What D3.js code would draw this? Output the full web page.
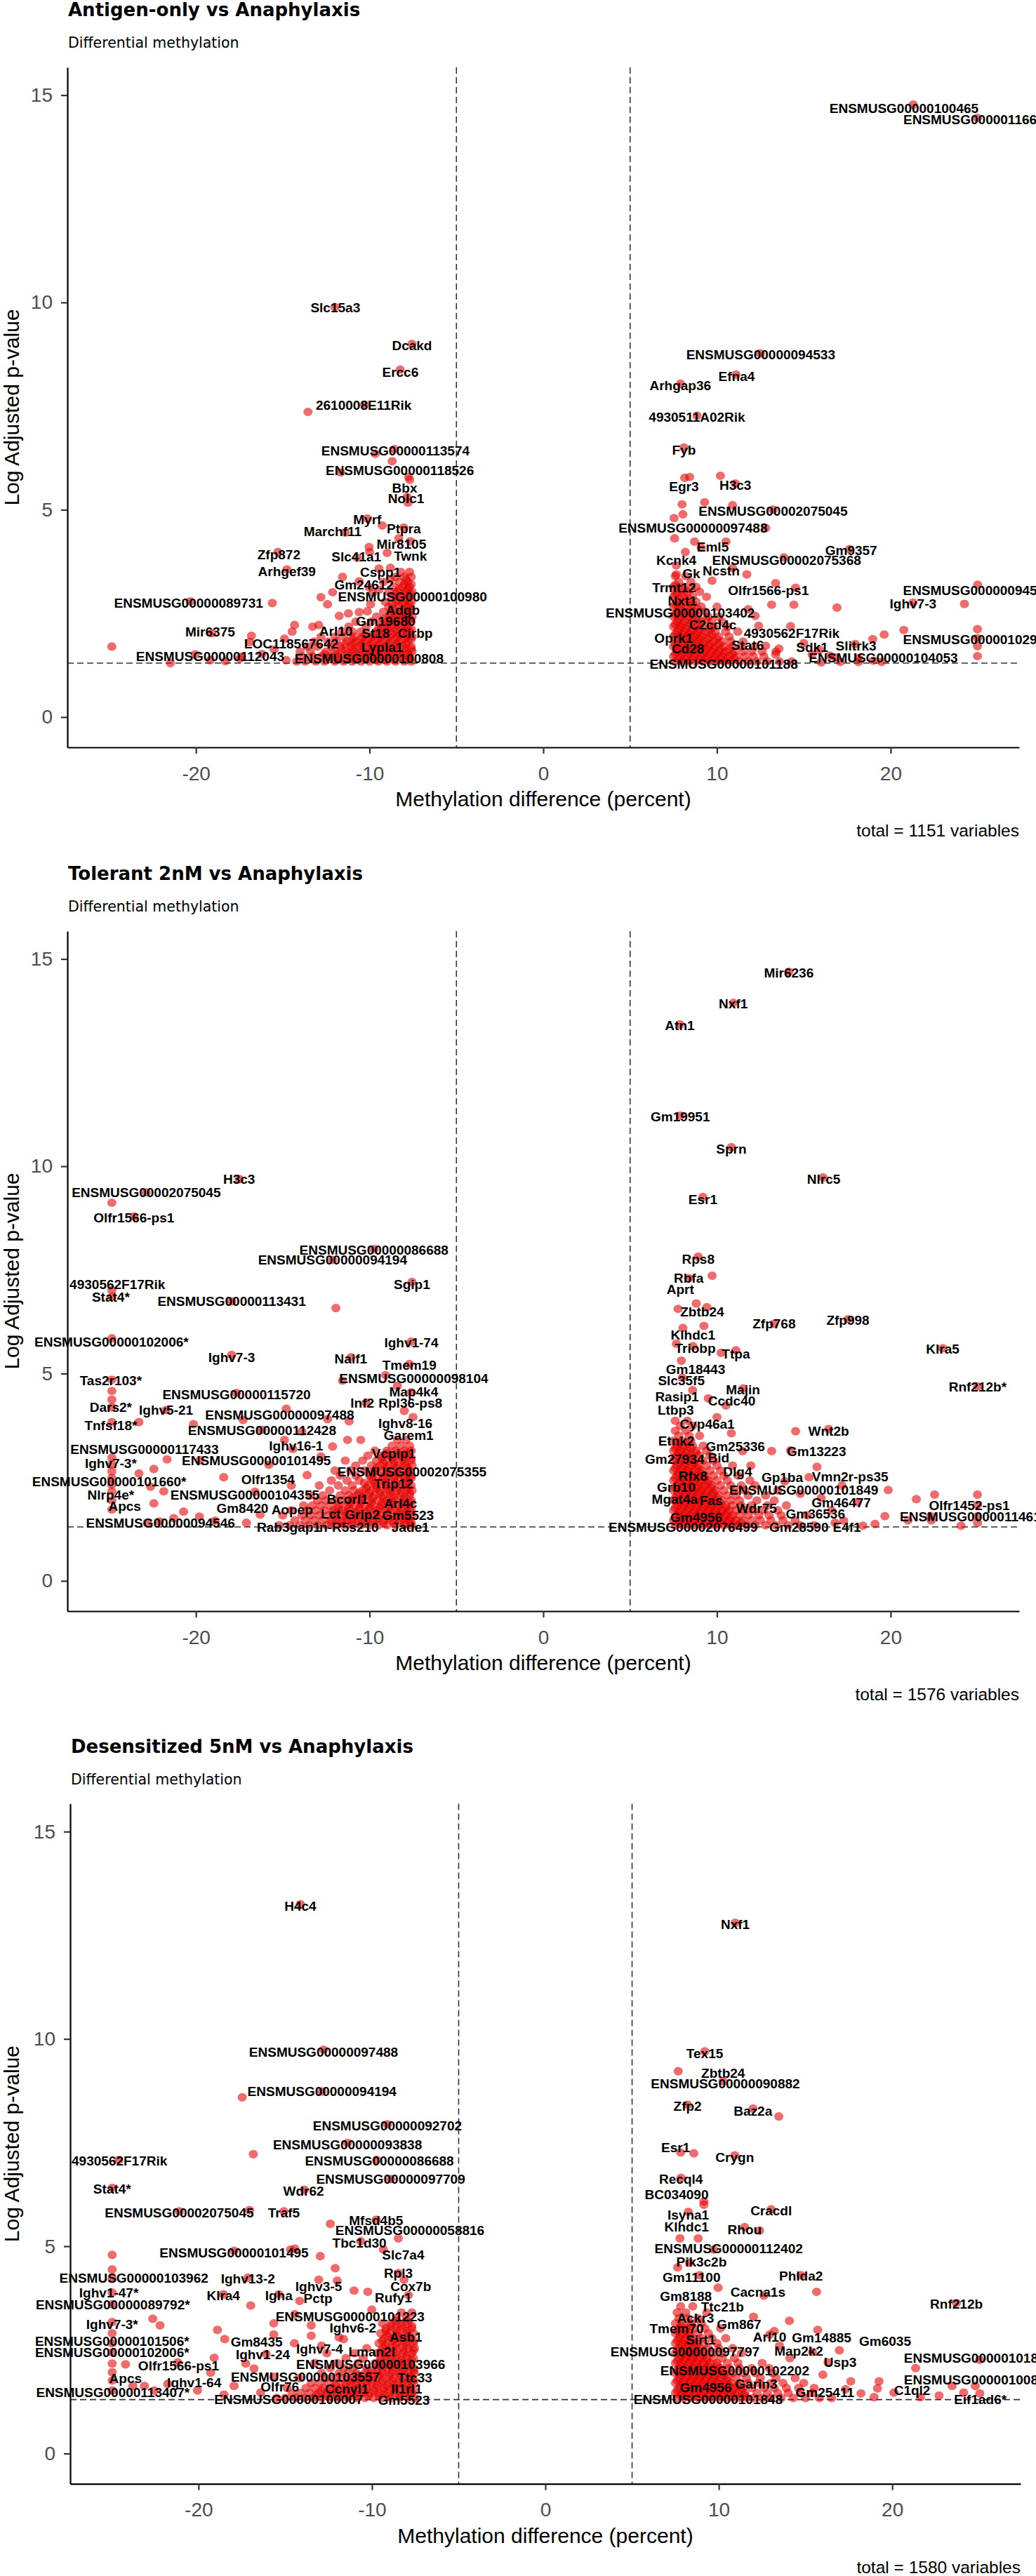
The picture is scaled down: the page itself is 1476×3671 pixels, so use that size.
<!DOCTYPE html>
<html>
<head>
<meta charset="utf-8">
<script src="https://cdnjs.cloudflare.com/ajax/libs/d3/7.8.5/d3.min.js"></script>
<style>
  body { margin: 0; background: #fff; }
  .tick text { font-family: "Liberation Sans", Arial, sans-serif; font-size: 28px; fill: #4d4d4d; }
</style>
</head>
<body>
<div id="chart"></div>
<script>
// ---- shared values ----
var xTicks = [-20, -10, 0, 10, 20];
var yTicks = [0, 5, 10, 15];
var diffCut = 5;          // dashed verticals at +/- 5 percent
var pCut = 1.3;           // -log10(0.05)
var subtitle = "Differential methylation";
var xTitle = "Methylation difference (percent)";
var yTitle = "Log Adjusted p-value";

// ---- panel 1: Antigen-only vs Anaphylaxis ----
var antigenTitle = "Antigen-only vs Anaphylaxis";
var antigenTotal = 1151;
var antigenPoints = [
  [-12.0,9.89],[-7.56,9.0],[-8.24,8.38],[-13.55,7.36],[-10.3,7.53],
  [-9.67,6.35],[-8.7,6.17],[-8.57,6.46],[-11.66,5.9],[-7.76,5.79],
  [-7.69,5.72],[-7.79,5.17],[-7.84,5.31],[-10.13,4.79],[-9.27,4.62],[-8.03,4.57],
  [-11.4,4.45],[-8.32,4.31],[-7.65,4.24],[-10.03,4.1],[-10.0,3.98],
  [-15.28,3.98],[-10.7,3.84],[-8.99,3.96],[-14.76,3.56],[-9.46,3.58],[-8.8,3.6],
  [-11.56,3.38],[-10.6,3.27],[-12.13,3.01],[-12.8,2.89],[-12.42,2.72],
  [-15.6,2.75],[-20.33,2.79],[-19.09,2.02],[-21.47,1.30],[-24.84,1.70],
  [-20.04,1.51],[-17.37,1.46],[-16.8,1.96],[-16.9,1.81],[-14.9,1.89],[-14.32,2.22],[-14.46,2.06],
  [-13.28,2.18],[-12.93,2.22],[-11.75,2.44],[-11.22,2.5],[-10.6,2.53],[-10.13,2.55],[-9.94,2.72],
  [-9.84,2.99],[-10.03,3.13],[-9.46,3.07],[-19.18,1.37],[-17.47,1.41],[-14.8,1.37],[-16.2,1.52],
  [-15.5,1.63],[-18.3,1.35],
  [21.3,14.77],[25.0,14.45],[12.5,8.77],[11.1,8.26],[7.9,8.04],[8.85,7.27],[8.1,6.5],
  [8.14,5.77],[8.43,5.79],[10.2,5.82],[11.06,5.63],[13.23,5.0],[9.29,5.18],[7.99,5.13],[10.9,5.11],
  [8.04,4.89],[7.53,4.8],[12.81,4.56],[7.56,4.31],[8.71,4.23],[10.52,4.23],[9.09,4.09],
  [17.63,4.05],[8.18,3.98],[7.66,3.66],[13.86,3.85],[7.66,3.44],[9.72,3.29],[11.72,3.44],[10.9,3.59],
  [7.61,3.19],[13.38,3.23],[14.53,3.12],[13.15,2.71],[14.43,2.71],[16.91,2.64],[25.01,3.19],
  [21.29,2.76],[24.25,2.73],[14.24,2.19],[19.63,1.99],[20.76,2.1],[25.0,2.12],[25.0,1.9],[25.0,1.71],
  [17.96,1.76],[18.97,1.88],[25.0,1.47],[16.0,1.32],[17.1,1.33],[18.15,1.33],[19.0,1.36],[19.48,1.33],
  [18.15,1.42],[15.48,1.51],[16.8,1.44],[13.57,1.65],[13.38,1.51],[12.8,1.72],[12.2,2.44],[11.8,2.6],
  [12.4,2.2],[15.0,1.78],[15.9,1.62],[16.5,1.48]
];
// dense clusters, one row per p-value level: [y, [x, x, ...]]
var antigenCluster = [
  [1.34, [-14.2,-13.7,-13.1,-12.6,-12.0,-11.5,-11.0,-10.5,-10.0,-9.5,-9.0,-8.5,-8.0,-7.6]],
  [1.46, [-13.9,-13.3,-12.8,-12.3,-11.8,-11.2,-10.7,-10.2,-9.7,-9.2,-8.7,-8.2,-7.7]],
  [1.58, [-14.0,-13.4,-12.5,-12.0,-11.4,-10.9,-10.4,-9.9,-9.4,-8.9,-8.4,-7.9,-7.55]],
  [1.70, [-13.6,-13.0,-12.2,-11.7,-11.1,-10.6,-10.1,-9.6,-9.1,-8.6,-8.1,-7.6]],
  [1.82, [-13.2,-12.4,-11.9,-11.3,-10.8,-10.3,-9.8,-9.3,-8.8,-8.3,-7.8]],
  [1.94, [-12.8,-12.0,-11.5,-10.9,-10.4,-9.9,-9.4,-8.9,-8.4,-7.9,-7.55]],
  [2.06, [-11.6,-11.0,-10.5,-9.6,-9.1,-8.6,-8.1,-7.7]],
  [2.18, [-11.2,-10.2,-9.3,-8.8,-8.3,-7.8]],
  [2.30, [-10.8,-9.9,-9.0,-8.5,-8.0,-7.6]],
  [2.42, [-9.6,-8.9,-8.4,-7.9,-7.55]],
  [2.54, [-9.2,-8.6,-8.1,-7.7]],
  [2.66, [-8.9,-8.3,-7.8]],
  [2.78, [-9.1,-8.5,-8.0,-7.6]],
  [2.90, [-8.7,-8.2,-7.7]],
  [3.02, [-8.9,-8.4,-7.9,-7.55]],
  [3.14, [-8.6,-8.1,-7.7]],
  [3.26, [-9.2,-8.3,-7.8]],
  [3.38, [-8.5,-8.0,-7.6]],
  [3.50, [-8.2,-7.7]],
  [1.40, [-12.3,-11.7,-11.1,-10.6,-10.1,-9.6,-9.1,-8.6,-8.1,-7.7]],
  [1.52, [-12.6,-11.9,-11.3,-10.8,-10.3,-9.8,-9.3,-8.8,-8.3,-7.8]],
  [1.64, [-11.6,-11.0,-10.5,-10.0,-9.5,-9.0,-8.5,-8.0,-7.6]],
  [1.76, [-11.4,-10.9,-10.4,-9.9,-9.4,-8.9,-8.4,-7.9]],
  [1.88, [-11.0,-10.5,-10.0,-9.5,-9.0,-8.5,-8.0,-7.6]],
  [2.00, [-10.2,-9.7,-9.2,-8.7,-8.2,-7.8]],
  [2.12, [-9.5,-9.0,-8.5,-8.0,-7.6]],
  [2.24, [-9.4,-8.9,-8.4,-7.9]],
  [2.36, [-9.2,-8.7,-8.2,-7.7]],
  [2.48, [-8.8,-8.3,-7.8]],
  [2.60, [-8.6,-8.0,-7.6]],
  [2.72, [-8.7,-8.1,-7.7]],
  [2.84, [-8.4,-7.9]],
  [2.96, [-8.5,-8.0,-7.6]],
  [3.08, [-8.3,-7.8]],
  [3.20, [-8.0,-7.6]],
  [3.32, [-8.8,-7.9]],
  [1.34, [7.6,8.0,8.4,8.8,9.2,9.6,10.0,10.4,10.8,11.3,11.8,12.3,12.9,13.6,14.3]],
  [1.46, [7.5,7.9,8.3,8.7,9.1,9.5,9.9,10.3,10.7,11.1,11.6,12.1,12.7]],
  [1.58, [7.7,8.1,8.5,8.9,9.3,9.7,10.1,10.5,11.0,11.5,12.0,12.6,13.4]],
  [1.70, [7.5,7.9,8.3,8.7,9.1,9.5,9.9,10.4,10.9,11.4,12.2]],
  [1.82, [7.7,8.1,8.5,8.9,9.3,9.8,10.3,10.8,11.5]],
  [1.94, [7.5,7.9,8.3,8.7,9.1,9.6,10.1,10.7]],
  [2.06, [7.7,8.1,8.5,8.9,9.4,9.9,10.5,11.2]],
  [2.18, [7.5,7.9,8.3,8.8,9.3,9.8,10.6]],
  [2.30, [7.7,8.1,8.6,9.1,9.7,10.3]],
  [2.42, [7.5,7.9,8.4,8.9,9.5,10.1]],
  [2.54, [7.7,8.2,8.7,9.3]],
  [2.66, [7.5,7.9,8.5,9.1,10.0]],
  [2.78, [7.7,8.2,8.8]],
  [2.90, [7.5,8.0,8.6,9.4]],
  [3.02, [7.7,8.3,9.0]],
  [3.14, [7.5,8.1,8.8]],
  [3.26, [7.8,8.5]],
  [3.40, [7.6,8.2]],
  [1.40, [7.8,8.2,8.6,9.0,9.4,9.8,10.2,10.6,11.0]],
  [1.52, [7.6,8.0,8.4,8.8,9.2,9.6,10.0,10.4,10.9]],
  [1.64, [7.8,8.2,8.6,9.0,9.4,9.8,10.2,10.7]],
  [1.76, [7.6,8.0,8.4,8.8,9.2,9.6,10.1]],
  [1.88, [7.8,8.2,8.6,9.0,9.5,10.0]],
  [2.00, [7.6,8.0,8.4,8.8,9.2,9.7]],
  [2.12, [7.8,8.2,8.6,9.0,9.6]],
  [2.24, [7.6,8.0,8.5,9.0]],
  [2.36, [7.8,8.3,8.8,9.4]],
  [2.48, [7.6,8.1,8.6]],
  [2.60, [7.8,8.3,8.9]],
  [2.72, [7.6,8.0,8.6]],
  [2.84, [7.8,8.4]],
  [2.96, [7.6,8.1]],
  [3.08, [7.9,8.5]]
];
var antigenLabels = [
  ["Slc15a3",-11.97,9.88],["Dcakd",-7.56,8.96],["Ercc6",-8.23,8.32],["2610008E11Rik",-10.34,7.52],
  ["ENSMUSG00000113574",-8.51,6.43],["ENSMUSG00000118526",-8.26,5.95],["Bbx",-7.98,5.53],
  ["Nolc1",-7.9,5.28],["Myrf",-10.13,4.77],["Ptpra",-8.03,4.54],["Marchf11",-12.13,4.48],
  ["Mir8105",-8.17,4.18],["Zfp872",-15.22,3.93],["Slc41a1",-10.76,3.87],["Twnk",-7.65,3.89],
  ["Arhgef39",-14.76,3.51],["Cspp1",-9.37,3.49],["Gm24612",-10.32,3.2],["ENSMUSG00000100980",-7.53,2.91],
  ["ENSMUSG00000089731",-20.42,2.75],["Adgb",-8.09,2.58],["Gm19680",-9.08,2.31],["Mir6375",-19.18,2.06],
  ["Arl10",-11.94,2.08],["St18",-9.65,2.02],["Cirbp",-7.37,2.02],["LOC118567642",-14.51,1.77],
  ["Lypla1",-9.27,1.68],["ENSMUSG00000112043",-19.18,1.46],["ENSMUSG00000100808",-10.03,1.41],
  ["ENSMUSG00000100465",20.77,14.69],["ENSMUSG00000116688",25.0,14.42],["ENSMUSG00000094533",12.52,8.75],
  ["Efna4",11.13,8.22],["Arhgap36",7.89,8.0],["4930511A02Rik",8.85,7.24],["Fyb",8.1,6.45],
  ["Egr3",8.1,5.57],["H3c3",11.06,5.6],["ENSMUSG00002075045",13.23,4.97],["ENSMUSG00000097488",8.62,4.57],
  ["Eml5",9.76,4.1],["Gm9357",17.73,4.03],["Kcnk4",7.66,3.79],["ENSMUSG00002075368",14.01,3.79],
  ["Gk",8.52,3.46],["Ncstn",10.24,3.53],["Trmt12",7.53,3.12],["Olfr1566-ps1",12.96,3.05],
  ["Nxt1",8.01,2.81],["ENSMUSG00000094518",25.0,3.05],["Ighv7-3",21.29,2.73],
  ["ENSMUSG00000103402",7.89,2.51],["C2cd4c",9.76,2.23],["4930562F17Rik",14.3,2.03],
  ["ENSMUSG00000102977",25.0,1.87],["Oprk1",7.51,1.90],["Cd28",8.33,1.65],["Stat6",11.76,1.74],
  ["Sdk1",15.48,1.69],["Slitrk3",18.01,1.72],["ENSMUSG00000104053",19.58,1.44],
  ["ENSMUSG00000101188",10.39,1.28]
];

// ---- panel 2: Tolerant 2nM vs Anaphylaxis ----
var tolerantTitle = "Tolerant 2nM vs Anaphylaxis";
var tolerantTotal = 1576;
var tolerantPoints = [
  [-17.5,9.69],[-22.86,9.37],[-24.84,9.12],[-23.57,8.79],[-9.75,8.0],[-12.13,7.74],[-7.56,7.21],
  [-24.84,7.01],[-24.84,6.85],[-17.94,6.74],[-11.94,6.58],[-24.84,5.85],[-7.6,5.77],[-17.94,5.45],
  [-11.08,5.39],[-7.71,5.23],[-24.84,4.85],[-9.08,4.96],[-11.56,4.83],[-17.66,4.53],[-10.2,4.29],
  [-24.84,4.58],[-24.84,4.37],[-24.84,4.19],[-21.72,4.12],[-14.8,4.15],[-24.84,3.83],[-23.28,3.83],
  [-16.19,3.64],[-24.84,2.97],[-14.9,3.4],[-19.76,2.91],[-24.84,2.81],[-24.84,2.64],[-24.84,2.48],
  [-24.84,2.32],[-24.84,2.16],[-24.84,1.94],[-24.84,1.72],[-23.28,2.59],[-22.42,2.7],[-22.61,2.27],
  [-21.85,2.16],[-21.66,2.93],[-22.42,1.87],[-22.8,1.4],[-22.1,1.43],[-21.28,1.51],[-20.71,1.67],
  [-20.14,3.78],[-17.28,3.88],[-17.09,1.4],[-14.42,3.18],[-12.13,3.24],[-11.27,3.4],[-10.51,3.4],
  [-11.18,3.85],[-12.42,3.9],[-8.0,4.1],[-7.5,3.95],[-7.6,4.55],[-8.4,4.7],[-18.4,2.5],[-16.6,2.15],
  [-19.8,1.55],[-18.9,1.45],[-16.3,1.6],[-15.8,2.8],[-13.6,2.55],[-14.5,2.3],[-13.9,3.6],[-12.8,3.0],
  [14.14,14.69],[10.94,13.94],[7.86,13.42],[7.89,11.22],[10.83,10.46],[16.11,9.73],[9.19,9.26],
  [8.92,7.82],[9.72,7.36],[8.37,7.3],[7.76,6.56],[8.81,6.69],[9.42,6.6],[13.29,6.2],[17.54,6.31],
  [8.04,6.1],[9.25,6.15],[23.0,5.61],[8.62,5.66],[7.66,5.72],[10.24,5.5],[11.09,5.56],[7.95,5.31],
  [25.01,4.69],[11.5,4.64],[10.52,4.23],[8.0,4.9],[9.5,4.4],[8.6,4.6],[10.0,3.95],[10.83,3.56],
  [14.53,3.61],[16.43,3.66],[11.48,3.13],[13.15,3.13],[14.24,3.15],[11.95,2.78],[15.76,2.75],
  [19.86,2.19],[21.48,1.97],[22.53,2.08],[25.0,2.08],[25.0,1.83],[25.0,1.56],[22.3,1.56],[19.67,1.56],
  [19.1,1.37],[21.0,1.46],[22.34,1.46],[24.05,1.33],[25.0,1.4],[18.4,1.33],[17.3,1.45],[16.6,1.7],
  [16.0,2.0],[17.2,2.3],[18.1,1.9],[13.9,2.4],[14.8,2.1],[15.3,2.5],[16.8,1.4]
];
var tolerantCluster = [
  [1.34, [-15.2,-14.6,-14.0,-13.5,-13.0,-12.5,-12.0,-11.5,-11.0,-10.5,-10.0,-9.5,-9.0,-8.5,-8.0,-7.6]],
  [1.46, [-14.3,-13.7,-13.2,-12.7,-12.2,-11.7,-11.2,-10.7,-10.2,-9.7,-9.2,-8.7,-8.2,-7.7]],
  [1.58, [-15.0,-13.9,-13.4,-12.9,-12.4,-11.9,-11.4,-10.9,-10.4,-9.9,-9.4,-8.9,-8.4,-7.9,-7.55]],
  [1.70, [-14.5,-13.6,-13.1,-12.6,-12.1,-11.6,-11.1,-10.6,-10.1,-9.6,-9.1,-8.6,-8.1,-7.6]],
  [1.82, [-13.8,-13.3,-12.8,-12.3,-11.8,-11.3,-10.8,-10.3,-9.8,-9.3,-8.8,-8.3,-7.8]],
  [1.94, [-13.0,-12.5,-12.0,-11.5,-11.0,-10.5,-10.0,-9.5,-9.0,-8.5,-8.0,-7.6]],
  [2.06, [-13.4,-12.7,-11.7,-11.2,-10.7,-10.2,-9.7,-9.2,-8.7,-8.2,-7.7]],
  [2.18, [-12.3,-11.4,-10.9,-10.4,-9.9,-9.4,-8.9,-8.4,-7.9,-7.55]],
  [2.30, [-12.9,-11.8,-11.0,-10.1,-9.6,-9.1,-8.6,-8.1,-7.6]],
  [2.42, [-12.2,-11.3,-10.6,-9.8,-9.3,-8.8,-8.3,-7.8]],
  [2.54, [-11.7,-10.8,-10.0,-9.5,-9.0,-8.5,-8.0,-7.6]],
  [2.66, [-12.0,-11.1,-10.3,-9.7,-9.2,-8.7,-8.2,-7.7]],
  [2.78, [-10.8,-9.9,-9.4,-8.9,-8.4,-7.9,-7.55]],
  [2.90, [-11.4,-10.4,-9.6,-9.1,-8.6,-8.1,-7.6]],
  [3.02, [-10.1,-9.3,-8.8,-8.3,-7.8]],
  [3.14, [-9.7,-9.0,-8.5,-8.0,-7.6]],
  [3.26, [-8.7,-8.2,-7.7]],
  [3.40, [-8.4,-7.9]],
  [1.40, [-12.2,-11.6,-11.0,-10.4,-9.8,-9.2,-8.6,-8.0,-7.6]],
  [1.52, [-11.9,-11.3,-10.7,-10.1,-9.5,-8.9,-8.3,-7.8]],
  [1.64, [-12.1,-11.4,-10.8,-10.2,-9.6,-9.0,-8.4,-7.9]],
  [1.76, [-11.8,-11.2,-10.6,-10.0,-9.4,-8.8,-8.2,-7.7]],
  [1.88, [-11.1,-10.5,-9.9,-9.3,-8.7,-8.1,-7.6]],
  [2.00, [-11.0,-10.4,-9.8,-9.2,-8.6,-8.0]],
  [2.12, [-10.6,-10.0,-9.4,-8.8,-8.2,-7.7]],
  [2.24, [-10.2,-9.6,-9.0,-8.4,-7.8]],
  [2.36, [-10.3,-9.7,-9.1,-8.5,-7.9]],
  [2.48, [-9.9,-9.2,-8.6,-8.0,-7.6]],
  [2.60, [-9.8,-9.0,-8.4,-7.8]],
  [2.72, [-9.6,-9.0,-8.4,-7.8]],
  [2.84, [-9.2,-8.6,-8.0]],
  [2.96, [-9.3,-8.7,-8.1,-7.6]],
  [3.08, [-9.0,-8.4,-7.9]],
  [1.34, [7.6,8.0,8.4,8.8,9.2,9.6,10.0,10.4,10.8,11.2,11.7,12.2,12.8,13.4,14.1,14.8,15.6]],
  [1.46, [7.5,7.9,8.3,8.7,9.1,9.5,9.9,10.3,10.7,11.1,11.5,12.0,12.5,13.1,13.8,14.5]],
  [1.58, [7.7,8.1,8.5,8.9,9.3,9.7,10.1,10.5,10.9,11.3,11.8,12.4,13.0,13.7,15.2]],
  [1.70, [7.5,7.9,8.3,8.7,9.1,9.5,9.9,10.3,10.7,11.1,11.6,12.1,12.7,13.5]],
  [1.82, [7.7,8.1,8.5,8.9,9.3,9.7,10.1,10.5,10.9,11.4,12.0,12.9,14.0]],
  [1.94, [7.5,7.9,8.3,8.7,9.1,9.5,9.9,10.3,10.8,11.3,12.3,13.3]],
  [2.06, [7.7,8.1,8.5,8.9,9.3,9.7,10.1,10.6,11.1,11.8,12.8]],
  [2.18, [7.5,7.9,8.3,8.7,9.1,9.5,9.9,10.4,11.0,11.6,13.5]],
  [2.30, [7.7,8.1,8.5,8.9,9.3,9.7,10.2,10.8,11.4,12.2]],
  [2.42, [7.5,7.9,8.3,8.7,9.1,9.5,10.0,10.6,11.9]],
  [2.54, [7.7,8.1,8.5,8.9,9.3,9.8,10.4,11.2]],
  [2.66, [7.5,7.9,8.3,8.7,9.1,9.6,10.2]],
  [2.78, [7.7,8.1,8.5,8.9,9.4,10.0,10.9]],
  [2.90, [7.5,7.9,8.3,8.7,9.2,9.8]],
  [3.02, [7.7,8.1,8.5,9.0,9.6]],
  [3.14, [7.5,7.9,8.3,8.8,9.4]],
  [3.26, [7.7,8.1,8.6,9.2]],
  [3.38, [7.5,8.0,8.5]],
  [3.50, [7.8,8.4,9.0]],
  [3.62, [7.6,8.2]],
  [3.74, [7.9,8.6]],
  [3.86, [7.6,8.3]],
  [1.40, [7.8,8.2,8.6,9.0,9.4,9.8,10.2,10.6,11.0,11.4]],
  [1.52, [7.6,8.0,8.4,8.8,9.2,9.6,10.0,10.4,10.8]],
  [1.64, [7.8,8.2,8.6,9.0,9.4,9.8,10.2,10.6]],
  [1.76, [7.6,8.0,8.4,8.8,9.2,9.6,10.0,10.5]],
  [1.88, [7.8,8.2,8.6,9.0,9.4,9.8,10.2]],
  [2.00, [7.6,8.0,8.4,8.8,9.2,9.6,10.0]],
  [2.12, [7.8,8.2,8.6,9.0,9.4,9.8]],
  [2.24, [7.6,8.0,8.4,8.8,9.2,9.7]],
  [2.36, [7.8,8.2,8.6,9.0,9.5]],
  [2.48, [7.6,8.0,8.4,8.8,9.3]],
  [2.60, [7.8,8.2,8.6,9.1]],
  [2.72, [7.6,8.0,8.4,8.9]],
  [2.84, [7.8,8.2,8.7]],
  [2.96, [7.6,8.0,8.5]],
  [3.08, [7.8,8.3,8.8]],
  [3.20, [7.6,8.0,8.5]],
  [3.32, [7.8,8.3]]
];
var tolerantLabels = [
  ["H3c3",-17.51,9.69],["ENSMUSG00002075045",-22.86,9.37],["Olfr1566-ps1",-23.57,8.76],
  ["ENSMUSG00000086688",-9.75,7.98],["ENSMUSG00000094194",-12.13,7.74],["Sgip1",-7.56,7.15],
  ["4930562F17Rik",-24.52,7.15],["Stat4*",-24.9,6.85],["ENSMUSG00000113431",-17.94,6.74],
  ["ENSMUSG00000102006*",-24.86,5.77],["Ighv1-74",-7.6,5.75],["Ighv7-3",-17.94,5.39],["Naif1",-11.08,5.36],
  ["Tmem19",-7.71,5.21],["Tas2r103*",-24.9,4.83],["ENSMUSG00000098104",-7.46,4.88],["Map4k4",-7.46,4.56],
  ["ENSMUSG00000115720",-17.66,4.5],["Inf2",-10.42,4.29],["Rpl36-ps8",-7.65,4.29],["Dars2*",-24.9,4.19],
  ["Ighv5-21",-21.72,4.12],["ENSMUSG00000097488",-15.18,4.01],["Tnfsf18*",-24.9,3.75],["Ighv8-16",-7.94,3.81],
  ["ENSMUSG00000112428",-16.19,3.64],["Garem1",-7.75,3.51],["ENSMUSG00000117433",-22.96,3.18],
  ["Ighv16-1",-14.23,3.26],["Vcpip1",-8.61,3.07],["Ighv7-3*",-24.9,2.84],["ENSMUSG00000101495",-16.52,2.91],
  ["ENSMUSG00002075355",-7.56,2.64],["ENSMUSG00000101660*",-24.99,2.40],["Olfr1354",-15.85,2.45],
  ["Trip12",-8.61,2.35],["Nlrp4e*",-24.9,2.08],["ENSMUSG00000104355",-17.18,2.08],["Bcorl1",-11.27,1.97],
  ["Apcs",-24.1,1.81],["Arl4c",-8.22,1.87],["Gm8420",-17.32,1.76],["Aopep",-14.46,1.72],["Lct",-12.23,1.62],
  ["Grip2",-10.42,1.6],["Gm5523",-7.79,1.58],["ENSMUSG00000094546",-22.04,1.40],["Rab3gap1",-14.65,1.29],
  ["n-R5s210",-11.18,1.29],["Jade1",-7.65,1.29],
  ["Mir6236",14.14,14.67],["Nxf1",10.94,13.92],["Atn1",7.86,13.4],["Gm19951",7.89,11.2],["Sprn",10.83,10.42],
  ["Nlrc5",16.15,9.69],["Esr1",9.19,9.2],["Rps8",8.92,7.77],["Rbfa",8.37,7.3],["Aprt",7.89,7.03],
  ["Zbtb24",9.15,6.5],["Zfp768",13.29,6.2],["Zfp998",17.54,6.29],["Klhdc1",8.62,5.93],["Klra5",23.0,5.59],
  ["Triobp",8.75,5.61],["Ttpa",11.09,5.48],["Gm18443",8.77,5.1],["Slc35f5",7.95,4.83],["Rnf212b*",25.01,4.69],
  ["Majin",11.5,4.61],["Rasip1",7.7,4.44],["Ccdc40",10.85,4.34],["Ltbp3",7.63,4.13],["Cyp46a1",9.44,3.78],
  ["Wnt2b",16.43,3.61],["Etnk2",7.66,3.38],["Gm25336",11.06,3.24],["Gm13223",15.73,3.13],["Gm27934",7.57,2.94],
  ["Bid",10.1,2.97],["Dlg4",11.19,2.64],["Vmn2r-ps35",17.67,2.51],["Gp1ba",13.76,2.5],["Rfx8",8.62,2.53],
  ["Grb10",7.66,2.26],["ENSMUSG00000101849",15.0,2.19],["Mgat4a",7.57,1.97],["Fas",9.66,1.94],
  ["Gm46477",17.16,1.89],["Olfr1452-ps1",24.53,1.83],["Wdr75",12.28,1.75],["Gm4956",8.81,1.54],
  ["Gm36536",15.67,1.62],["ENSMUSG00000114618",24.8,1.56],["ENSMUSG00002076499",8.05,1.29],
  ["Gm28590",14.72,1.29],["E4f1",17.48,1.29]
];

// ---- panel 3: Desensitized 5nM vs Anaphylaxis ----
var desensTitle = "Desensitized 5nM vs Anaphylaxis";
var desensTotal = 1580;
var desensPoints = [
  [-14.13,13.25],[-12.79,9.74],[-12.88,8.73],[-17.48,8.59],[-9.11,7.94],[-11.41,7.49],[-24.6,7.08],
  [-9.73,7.08],[-16.84,7.22],[-8.92,6.62],[-24.98,6.41],[-13.9,6.36],[-21.11,5.84],[-17.06,5.87],
  [-15.08,5.84],[-12.4,5.54],[-9.76,5.64],[-8.48,5.19],[-10.65,5.12],[-17.95,4.89],[-14.45,4.94],
  [-14.7,4.92],[-9.34,4.92],[-24.98,4.79],[-24.98,4.44],[-24.98,4.22],[-17.15,4.24],[-8.48,4.35],
  [-13.07,4.19],[-12.98,4.76],[-12.12,4.47],[-12.0,4.17],[-8.15,4.19],[-24.98,3.88],[-18.57,3.84],
  [-15.37,3.84],[-14.17,3.68],[-11.03,3.93],[-10.24,3.9],[-7.9,3.82],[-24.98,3.6],[-16.99,3.57],
  [-14.45,3.36],[-10.01,3.47],[-24.98,3.17],[-22.64,3.25],[-22.22,3.09],[-15.66,3.14],[-13.5,3.09],
  [-11.64,2.76],[-24.98,2.9],[-24.98,2.66],[-24.98,2.44],[-24.98,2.17],[-24.98,1.96],[-24.98,1.76],
  [-24.98,1.52],[-18.91,2.98],[-18.49,2.76],[-14.47,2.66],[-13.5,2.84],[-19.1,2.31],[-24.21,2.15],
  [-21.2,2.2],[-23.79,1.63],[-23.12,1.63],[-22.55,1.52],[-21.78,1.68],[-20.06,1.52],[-19.3,1.95],
  [-18.53,1.42],[-17.95,1.63],[-17.28,2.17],[-16.8,2.05],[-16.42,1.47],[-15.66,1.85],[-15.66,2.87],
  [-16.1,2.4],[-12.9,2.6],[-11.9,2.8],
  [10.95,12.8],[9.19,9.7],[7.66,9.22],[10.25,8.98],[8.2,8.41],[11.97,8.32],[13.46,8.13],[7.8,7.26],
  [8.56,7.24],[10.92,7.19],[7.82,6.65],[9.14,6.08],[9.14,6.0],[13.02,5.89],[8.24,5.83],[11.49,5.46],
  [12.35,5.38],[7.76,5.19],[8.81,5.19],[9.7,4.92],[7.63,4.49],[14.74,4.3],[15.64,3.9],[12.6,3.81],
  [9.96,4.0],[8.3,4.6],[8.9,4.3],[23.7,3.63],[14.07,3.2],[12.0,3.3],[13.2,2.95],[12.93,2.87],[15.7,2.98],
  [16.95,2.49],[16.3,2.2],[25.04,2.26],[21.35,2.06],[24.79,1.63],[17.61,1.74],[19.24,1.74],[19.15,1.57],
  [20.1,1.47],[23.45,1.63],[24.12,1.47],[18.95,1.36],[21.63,1.36],[25.05,1.45],[22.7,1.4],[15.4,2.45],
  [14.1,2.3],[16.0,1.9],[17.3,1.55],[18.2,1.45],[13.5,2.6]
];
var desensCluster = [
  [1.34, [-15.5,-15.0,-14.4,-13.9,-13.4,-12.9,-12.4,-11.9,-11.4,-10.9,-10.4,-9.9,-9.4,-8.9,-8.4,-7.9,-7.55]],
  [1.46, [-14.6,-14.1,-13.6,-13.1,-12.6,-12.1,-11.6,-11.1,-10.6,-10.1,-9.6,-9.1,-8.6,-8.1,-7.7]],
  [1.58, [-14.9,-13.8,-13.3,-12.8,-12.3,-11.8,-11.3,-10.8,-10.3,-9.8,-9.3,-8.8,-8.3,-7.8]],
  [1.70, [-13.5,-13.0,-12.5,-12.0,-11.5,-11.0,-10.5,-10.0,-9.5,-9.0,-8.5,-8.0,-7.6]],
  [1.82, [-14.2,-12.7,-12.2,-11.7,-11.2,-10.7,-10.2,-9.7,-9.2,-8.7,-8.2,-7.7]],
  [1.94, [-12.9,-11.9,-11.4,-10.9,-10.4,-9.9,-9.4,-8.9,-8.4,-7.9,-7.55]],
  [2.06, [-12.4,-11.6,-11.1,-10.3,-9.6,-9.1,-8.6,-8.1,-7.6]],
  [2.18, [-13.3,-12.0,-10.8,-9.8,-9.3,-8.8,-8.3,-7.8]],
  [2.30, [-11.5,-10.5,-9.5,-9.0,-8.5,-8.0,-7.6]],
  [2.42, [-12.6,-11.0,-9.7,-9.2,-8.7,-8.2,-7.7]],
  [2.54, [-10.3,-9.4,-8.9,-8.4,-7.9,-7.55]],
  [2.66, [-9.6,-9.1,-8.6,-8.1,-7.6]],
  [2.78, [-9.3,-8.8,-8.3,-7.8]],
  [2.90, [-9.5,-9.0,-8.5,-8.0,-7.6]],
  [3.02, [-9.2,-8.7,-8.2,-7.7]],
  [3.14, [-9.4,-8.9,-8.4,-7.9]],
  [3.26, [-8.6,-8.0]],
  [3.40, [-8.3,-7.7]],
  [1.40, [-13.2,-12.6,-12.0,-11.4,-10.8,-10.2,-9.6,-9.0,-8.4,-7.8]],
  [1.52, [-12.9,-12.3,-11.7,-11.1,-10.5,-9.9,-9.3,-8.7,-8.1,-7.6]],
  [1.64, [-12.1,-11.5,-10.9,-10.3,-9.7,-9.1,-8.5,-7.9]],
  [1.76, [-11.2,-10.6,-10.0,-9.4,-8.8,-8.2,-7.6]],
  [1.88, [-10.8,-10.2,-9.6,-9.0,-8.4,-7.8]],
  [2.00, [-10.0,-9.4,-8.8,-8.2,-7.6]],
  [2.12, [-9.6,-9.0,-8.4,-7.8]],
  [2.24, [-9.5,-8.9,-8.3,-7.7]],
  [2.36, [-9.2,-8.6,-8.0]],
  [2.48, [-9.4,-8.8,-8.2,-7.6]],
  [2.60, [-9.2,-8.6,-8.0]],
  [2.72, [-9.4,-8.8,-8.2,-7.6]],
  [2.84, [-9.1,-8.5,-7.9]],
  [2.96, [-9.2,-8.6,-8.0]],
  [3.08, [-8.9,-8.3,-7.7]],
  [3.20, [-8.6,-8.0]],
  [1.34, [7.6,8.0,8.4,8.8,9.2,9.6,10.0,10.4,10.8,11.2,11.6,12.0,12.5,13.0,13.6,14.3,15.0,15.8,16.5]],
  [1.46, [7.5,7.9,8.3,8.7,9.1,9.5,9.9,10.3,10.7,11.1,11.5,12.2,12.8,13.4,14.0,14.7,15.4]],
  [1.58, [7.7,8.1,8.5,8.9,9.3,9.7,10.1,10.5,10.9,11.4,11.9,12.6,13.2,13.9,14.6,15.5]],
  [1.70, [7.5,7.9,8.3,8.7,9.1,9.5,9.9,10.3,10.7,11.2,11.7,12.3,13.0,13.7,14.9]],
  [1.82, [7.7,8.1,8.5,8.9,9.3,9.7,10.1,10.5,11.0,11.6,12.4,13.3,14.4]],
  [1.94, [7.5,7.9,8.3,8.7,9.1,9.5,9.9,10.3,10.8,11.4,12.1,13.1]],
  [2.06, [7.7,8.1,8.5,8.9,9.3,9.7,10.1,10.6,11.2,11.9,12.9]],
  [2.18, [7.5,7.9,8.3,8.7,9.1,9.5,9.9,10.5,11.1,12.5]],
  [2.30, [7.7,8.1,8.5,8.9,9.3,9.7,10.2,10.9]],
  [2.42, [7.5,7.9,8.3,8.7,9.1,9.6,10.2,11.3]],
  [2.54, [7.7,8.1,8.5,8.9,9.4,10.0,10.8]],
  [2.66, [7.5,7.9,8.3,8.7,9.2,9.9]],
  [2.78, [7.7,8.1,8.5,9.0,9.6,10.4]],
  [2.90, [7.5,7.9,8.3,8.8,9.4]],
  [3.02, [7.7,8.1,8.6,9.2,10.1]],
  [3.14, [7.5,7.9,8.4,9.0]],
  [3.26, [7.7,8.2,8.8]],
  [3.40, [7.6,8.1,9.3]],
  [3.55, [7.8,8.5]],
  [1.40, [7.8,8.2,8.6,9.0,9.4,9.8,10.2,10.6,11.0,11.5]],
  [1.52, [7.6,8.0,8.4,8.8,9.2,9.6,10.0,10.4,10.8,11.3]],
  [1.64, [7.8,8.2,8.6,9.0,9.4,9.8,10.2,10.6,11.1]],
  [1.76, [7.6,8.0,8.4,8.8,9.2,9.6,10.0,10.5]],
  [1.88, [7.8,8.2,8.6,9.0,9.4,9.8,10.3]],
  [2.00, [7.6,8.0,8.4,8.8,9.2,9.6,10.1]],
  [2.12, [7.8,8.2,8.6,9.0,9.4,9.9]],
  [2.24, [7.6,8.0,8.4,8.8,9.3]],
  [2.36, [7.8,8.2,8.6,9.1]],
  [2.48, [7.6,8.0,8.4,8.9]],
  [2.60, [7.8,8.2,8.7]],
  [2.72, [7.6,8.0,8.5]],
  [2.84, [7.8,8.3]],
  [2.96, [7.6,8.1]],
  [3.08, [7.8,8.4]]
];
var desensLabels = [
  ["H4c4",-14.13,13.2],["ENSMUSG00000097488",-12.79,9.69],["ENSMUSG00000094194",-12.88,8.73],
  ["ENSMUSG00000092702",-9.11,7.91],["ENSMUSG00000093838",-11.41,7.46],["4930562F17Rik",-24.56,7.06],
  ["ENSMUSG00000086688",-9.57,7.06],["ENSMUSG00000097709",-8.92,6.62],["Stat4*",-24.98,6.38],
  ["Wdr62",-13.94,6.33],["ENSMUSG00002075045",-21.11,5.81],["Traf5",-15.08,5.81],["Mfsd4b5",-9.76,5.62],
  ["ENSMUSG00000058816",-7.81,5.38],["Tbc1d30",-10.72,5.08],["ENSMUSG00000101495",-17.95,4.85],
  ["Slc7a4",-8.2,4.79],["ENSMUSG00000103962",-23.73,4.24],["Ighv13-2",-17.15,4.22],["Rpl3",-8.48,4.35],
  ["Ighv3-5",-13.07,4.04],["Cox7b",-7.76,4.03],["Ighv1-47*",-25.17,3.88],["Klra4",-18.57,3.81],
  ["Igha",-15.37,3.81],["Pctp",-13.11,3.74],["Rufy1",-8.77,3.77],["ENSMUSG00000089792*",-24.94,3.6],
  ["ENSMUSG00000101223",-11.26,3.3],["Ighv7-3*",-24.98,3.12],["Ighv6-2",-11.1,3.03],
  ["ENSMUSG00000101506*",-24.98,2.71],["Asb1",-8.04,2.82],["Gm8435",-16.65,2.69],["Ighv7-4",-13.02,2.53],
  ["Lman2l",-10.01,2.46],["ENSMUSG00000102006*",-24.98,2.44],["Ighv1-24",-16.29,2.39],
  ["ENSMUSG00000103966",-10.07,2.15],["Olfr1566-ps1",-21.15,2.12],["ENSMUSG00000103557",-13.84,1.85],
  ["Ttc33",-7.53,1.83],["Apcs",-24.21,1.81],["Ighv1-64",-20.25,1.71],["Olfr76",-15.31,1.61],
  ["Ccnyl1",-11.45,1.56],["Il1rl1",-8.0,1.56],["ENSMUSG00000113407*",-24.94,1.47],
  ["ENSMUSG00000100007",-14.8,1.31],["Gm5523",-8.16,1.29],
  ["Nxf1",10.95,12.77],["Tex15",9.19,9.65],["Zbtb24",10.25,9.18],["ENSMUSG00000090882",10.38,8.92],
  ["Zfp2",8.2,8.38],["Baz2a",11.97,8.27],["Esr1",7.51,7.38],["Crygn",10.92,7.14],["Recql4",7.82,6.63],
  ["BC034090",7.57,6.25],["Cracdl",13.02,5.86],["Isyna1",8.24,5.76],["Klhdc1",8.14,5.48],["Rhou",11.49,5.41],
  ["ENSMUSG00000112402",10.57,4.94],["Pik3c2b",9.0,4.63],["Gm11100",8.43,4.25],["Phlda2",14.74,4.28],
  ["Cacna1s",12.26,3.9],["Gm8188",8.1,3.79],["Ttc21b",10.21,3.55],["Rnf212b",23.7,3.61],["Ackr3",8.66,3.28],
  ["Gm867",11.17,3.12],["Tmem70",7.57,3.01],["Sirt1",8.96,2.74],["Arl10",12.93,2.82],["Gm14885",15.93,2.8],
  ["Gm6035",19.59,2.71],["ENSMUSG00000097797",8.05,2.46],["Map2k2",14.61,2.47],["Usp3",17.0,2.2],
  ["ENSMUSG00000101867",24.97,2.31],["ENSMUSG00000102202",10.92,2.01],["ENSMUSG00000100834",24.97,1.79],
  ["Gm4956",9.25,1.6],["Garin3",12.16,1.68],["Gm25411",16.12,1.47],["C1ql2",21.15,1.52],
  ["ENSMUSG00000101848",9.39,1.31],["Eif1ad6*",25.08,1.31]
];

// ---- layout ----
var width = 1476;
var height = 3671;
var plotTop = 96;
var plotBottom = 1065;

var panels = [
  {title: antigenTitle, total: antigenTotal, points: antigenPoints, cluster: antigenCluster, labels: antigenLabels,
   dy: 0, left: 96, right: 1452},
  {title: tolerantTitle, total: tolerantTotal, points: tolerantPoints, cluster: tolerantCluster, labels: tolerantLabels,
   dy: 1231, left: 96, right: 1452},
  {title: desensTitle, total: desensTotal, points: desensPoints, cluster: desensCluster, labels: desensLabels,
   dy: 2474.6, left: 100, right: 1454}
];

var svg = d3.select("#chart")
  .append("svg")
  .attr("width", width)
  .attr("height", height)
  .attr("viewBox", "0 0 " + width + " " + height);

svg.append("rect").attr("width", width).attr("height", height).attr("fill", "#fff");

function flattenCluster(rows) {
  var out = [];
  rows.forEach(function(r) {
    r[1].forEach(function(v) { out.push([v, r[0]]); });
  });
  return out;
}

panels.forEach(function(p) {
  var g = svg.append("g").attr("transform", "translate(0," + p.dy + ")");

  var x = d3.scaleLinear().domain([-27.4, 27.4]).range([p.left, p.right]);
  var y = d3.scaleLinear().domain([-0.73, 15.67]).range([plotBottom, plotTop]);

  // titles
  g.append("text")
    .attr("x", p.left + 1).attr("y", 23)
    .attr("font-family", "'DejaVu Sans', sans-serif")
    .attr("font-weight", "bold").attr("font-size", 26)
    .text(p.title);
  g.append("text")
    .attr("x", p.left + 1).attr("y", 68)
    .attr("font-family", "'DejaVu Sans', sans-serif")
    .attr("font-size", 20.5)
    .text(subtitle);

  // reference lines
  [-diffCut, diffCut].forEach(function(v) {
    g.append("line")
      .attr("x1", x(v)).attr("x2", x(v))
      .attr("y1", plotTop).attr("y2", plotBottom)
      .attr("stroke", "#333").attr("stroke-width", 1.6)
      .attr("stroke-dasharray", "9,5");
  });
  g.append("line")
    .attr("x1", p.left).attr("x2", p.right)
    .attr("y1", y(pCut)).attr("y2", y(pCut))
    .attr("stroke", "#333").attr("stroke-width", 1.6)
    .attr("stroke-dasharray", "9,5");

  // points
  var all = flattenCluster(p.cluster).concat(p.points);
  g.append("g").selectAll("ellipse")
    .data(all)
    .enter().append("ellipse")
    .attr("cx", function(d) { return x(d[0]); })
    .attr("cy", function(d) { return y(d[1]); })
    .attr("rx", 6.5)
    .attr("ry", 6.1)
    .attr("fill", "#e50000")
    .attr("fill-opacity", 0.58);

  // gene labels
  g.append("g").selectAll("text")
    .data(p.labels)
    .enter().append("text")
    .attr("x", function(d) { return x(d[1]); })
    .attr("y", function(d) { return y(d[2]); })
    .attr("dy", "0.36em")
    .attr("text-anchor", "middle")
    .attr("font-family", "'Liberation Sans', Arial, sans-serif")
    .attr("font-weight", "bold")
    .attr("font-size", 19)
    .attr("fill", "#000")
    .text(function(d) { return d[0]; });

  // axes
  var xAxis = g.append("g")
    .attr("transform", "translate(0," + plotBottom + ")")
    .call(d3.axisBottom(x).tickValues(xTicks).tickSize(9).tickSizeOuter(0).tickPadding(18)
      .tickFormat(d3.format("d")));
  var yAxis = g.append("g")
    .attr("transform", "translate(" + p.left + ",0)")
    .call(d3.axisLeft(y).tickValues(yTicks).tickSize(9).tickSizeOuter(0).tickPadding(12)
      .tickFormat(d3.format("d")));
  [xAxis, yAxis].forEach(function(a) {
    a.select(".domain").attr("stroke", "#000").attr("stroke-width", 2.2);
    a.selectAll(".tick line").attr("stroke", "#333").attr("stroke-width", 2.2);
  });
  xAxis.selectAll(".tick text").text(function(d) { return d < 0 ? "-" + Math.abs(d) : d; });

  // axis titles and caption
  g.append("text")
    .attr("x", (p.left + p.right) / 2).attr("y", plotBottom + 84)
    .attr("text-anchor", "middle")
    .attr("font-family", "'Liberation Sans', Arial, sans-serif")
    .attr("font-size", 30)
    .text(xTitle);
  g.append("text")
    .attr("transform", "translate(27," + (plotTop + plotBottom) / 2 + ") rotate(-90)")
    .attr("text-anchor", "middle")
    .attr("font-family", "'Liberation Sans', Arial, sans-serif")
    .attr("font-size", 30)
    .text(yTitle);
  g.append("text")
    .attr("x", p.right).attr("y", plotBottom + 127)
    .attr("text-anchor", "end")
    .attr("font-family", "'Liberation Sans', Arial, sans-serif")
    .attr("font-size", 24.5)
    .text("total = " + p.total + " variables");
});
</script>
</body>
</html>
